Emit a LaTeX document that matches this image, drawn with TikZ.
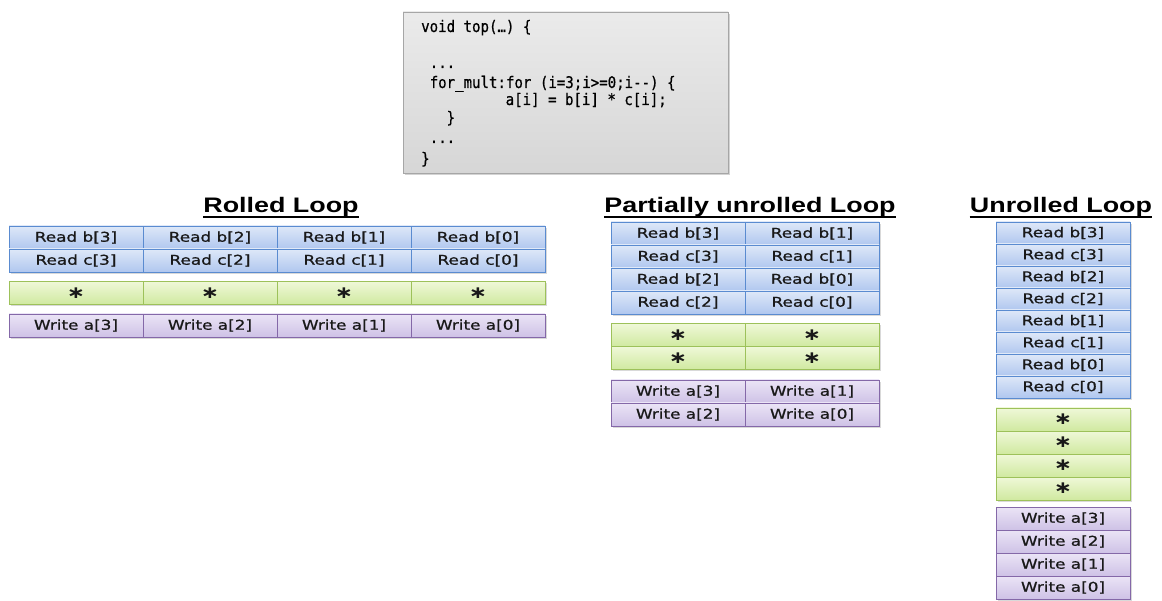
\documentclass[tikz,border=0pt]{standalone}
\usepackage{fontspec}
\usepackage{xcolor}
\usepackage{tikz}
\usetikzlibrary{shadows}

\newfontfamily\cellfont[FakeStretch=1.25,FakeBold=0.8]{DejaVu Sans}
\newfontfamily\starfont[FakeStretch=1.28]{DejaVu Sans}
\newfontfamily\titlefont[FakeStretch=1.28]{Liberation Sans}
\newfontfamily\codefont[FakeStretch=0.88,FakeBold=0.6]{DejaVu Sans Mono}

\definecolor{readtop}{HTML}{DEE8F8}
\definecolor{readbot}{HTML}{B0C7EF}
\definecolor{readline}{HTML}{5A8BD0}
\definecolor{multop}{HTML}{EFF8D8}
\definecolor{mulbot}{HTML}{D0E9A0}
\definecolor{mulline}{HTML}{9DC15A}
\definecolor{writetop}{HTML}{EBE4F6}
\definecolor{writebot}{HTML}{CEC2E6}
\definecolor{writeline}{HTML}{8468A8}

\begin{document}
\begin{tikzpicture}[
    x=1pt, y=-1pt,
    cell/.style={rectangle, draw, line width=0.9pt, inner sep=0pt,
      minimum width=134pt, minimum height=23pt, text=black!90,
      font=\cellfont\fontsize{13.5}{16}\selectfont,
      drop shadow={shadow xshift=1.5pt, shadow yshift=-2pt, opacity=0.3}},
    readcell/.style={cell, draw=readline, top color=readtop, bottom color=readbot},
    mulcell/.style={cell, draw=mulline, top color=multop, bottom color=mulbot,
      font=\starfont\bfseries\fontsize{17}{17}\selectfont},
    writecell/.style={cell, draw=writeline, top color=writetop, bottom color=writebot},
    title/.style={inner sep=0pt, anchor=base, text=black,
      font=\titlefont\bfseries\fontsize{21}{25}\selectfont},
    uline/.style={line width=1.4pt, black},
    codebox/.style={rectangle, draw=black!35, line width=0.8pt,
      minimum width=325pt, minimum height=161pt,
      top color=black!8, bottom color=black!16,
      drop shadow={shadow xshift=2pt, shadow yshift=-2.5pt, opacity=0.35}},
    codeline/.style={inner sep=0pt, anchor=base west, text=black,
      font=\codefont\fontsize{16}{19}\selectfont}
  ]
    \useasboundingbox (0,0) rectangle (1162,601);

    % Code
    \node[codebox] (code) at (565.5,92.5) {};
    \node[codeline] (l1) at (421,32) {void top(…) \{};
    \node[codeline] (l2) at (429.5,68) {...};
    \node[codeline] (l3) at (429.5,88) {for\_mult:for (i=3;i>=0;i--) \{};
    \node[codeline] (l4) at (505.5,105) {a[i] = b[i] * c[i];};
    \node[codeline] (l5) at (446.4,123) {\}};
    \node[codeline] (l6) at (429.5,143) {...};
    \node[codeline] (l7) at (421,164) {\}};

    % Titles
    \node[title] (trol) at (281,213) {Rolled Loop};
    \node[title] (tpar) at (750,213) {Partially unrolled Loop};
    \node[title] (tunr) at (1061,213) {Unrolled Loop};
    \draw[uline] ([yshift=-4pt]trol.base west) -- ([yshift=-4pt]trol.base east);
    \draw[uline] ([yshift=-4pt]tpar.base west) -- ([yshift=-4pt]tpar.base east);
    \draw[uline] ([yshift=-4pt]tunr.base west) -- ([yshift=-4pt]tunr.base east);

    % Rolled loop
    \node[readcell] (rb3) at (76,237.5) {Read b[3]};
    \node[readcell] (rb2) at (210,237.5) {Read b[2]};
    \node[readcell] (rb1) at (344,237.5) {Read b[1]};
    \node[readcell] (rb0) at (478,237.5) {Read b[0]};
    \node[readcell] (rc3) at (76,260.5) {Read c[3]};
    \node[readcell] (rc2) at (210,260.5) {Read c[2]};
    \node[readcell] (rc1) at (344,260.5) {Read c[1]};
    \node[readcell] (rc0) at (478,260.5) {Read c[0]};
    \node[mulcell] (rm3) at (76,293) {∗};
    \node[mulcell] (rm2) at (210,293) {∗};
    \node[mulcell] (rm1) at (344,293) {∗};
    \node[mulcell] (rm0) at (478,293) {∗};
    \node[writecell] (rw3) at (76,325.5) {Write a[3]};
    \node[writecell] (rw2) at (210,325.5) {Write a[2]};
    \node[writecell] (rw1) at (344,325.5) {Write a[1]};
    \node[writecell] (rw0) at (478,325.5) {Write a[0]};

    % Partially unrolled loop
    \node[readcell] (pb3) at (678,233.5) {Read b[3]};
    \node[readcell] (pb1) at (812,233.5) {Read b[1]};
    \node[readcell] (pc3) at (678,256.5) {Read c[3]};
    \node[readcell] (pc1) at (812,256.5) {Read c[1]};
    \node[readcell] (pb2) at (678,279.5) {Read b[2]};
    \node[readcell] (pb0) at (812,279.5) {Read b[0]};
    \node[readcell] (pc2) at (678,302.5) {Read c[2]};
    \node[readcell] (pc0) at (812,302.5) {Read c[0]};
    \node[mulcell] (pm3) at (678,335) {∗};
    \node[mulcell] (pm1) at (812,335) {∗};
    \node[mulcell] (pm2) at (678,358) {∗};
    \node[mulcell] (pm0) at (812,358) {∗};
    \node[writecell] (pw3) at (678,391.5) {Write a[3]};
    \node[writecell] (pw1) at (812,391.5) {Write a[1]};
    \node[writecell] (pw2) at (678,414.5) {Write a[2]};
    \node[writecell] (pw0) at (812,414.5) {Write a[0]};

    % Unrolled loop
    \begin{scope}[readcell/.append style={minimum height=22pt}]
      \node[readcell] (ub3) at (1063,233) {Read b[3]};
      \node[readcell] (uc3) at (1063,255) {Read c[3]};
      \node[readcell] (ub2) at (1063,277) {Read b[2]};
      \node[readcell] (uc2) at (1063,299) {Read c[2]};
      \node[readcell] (ub1) at (1063,321) {Read b[1]};
      \node[readcell] (uc1) at (1063,343) {Read c[1]};
      \node[readcell] (ub0) at (1063,365) {Read b[0]};
      \node[readcell] (uc0) at (1063,387) {Read c[0]};
    \end{scope}
    \node[mulcell] (um3) at (1063,419.5) {∗};
    \node[mulcell] (um2) at (1063,442.5) {∗};
    \node[mulcell] (um1) at (1063,465.5) {∗};
    \node[mulcell] (um0) at (1063,488.5) {∗};
    \node[writecell] (uw3) at (1063,518.5) {Write a[3]};
    \node[writecell] (uw2) at (1063,541.5) {Write a[2]};
    \node[writecell] (uw1) at (1063,564.5) {Write a[1]};
    \node[writecell] (uw0) at (1063,587.5) {Write a[0]};
  \end{tikzpicture}
\end{document}
